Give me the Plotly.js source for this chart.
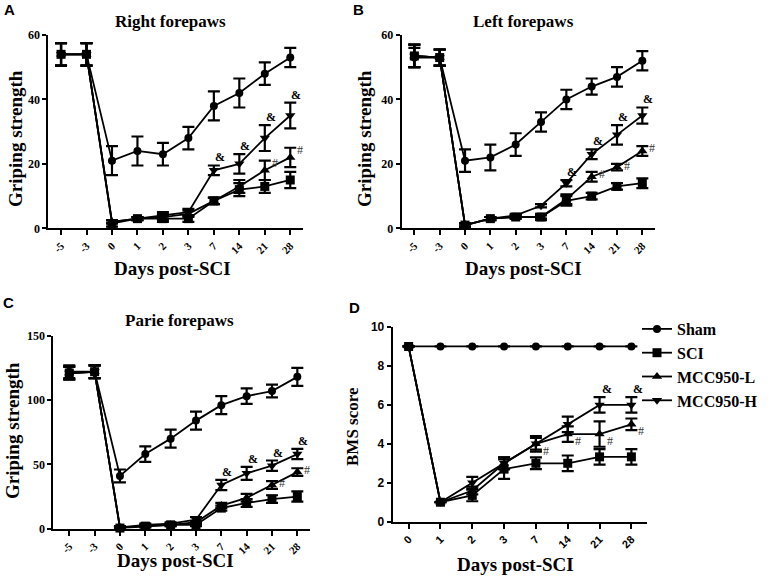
<!DOCTYPE html>
<html><head><meta charset="utf-8">
<script src="https://cdn.plot.ly/plotly-3.0.1.min.js"></script>
<style>html,body{margin:0;padding:0;background:#fff}</style>
</head><body><div id="chart" style="width:777px;height:581px"></div>
<script>
// ---------- data ----------
const daysGrip = ["-5","-3","0","1","2","3","7","14","21","28"];
const daysBMS = ["0","1","2","3","7","14","21","28"];
const seriesNames = ["Sham","SCI","MCC950-L","MCC950-H"];

// Panel A: Right forepaws
const rightSham = [54,54,21,24,23,28,38,42,48,53];
const rightShamErr = [3.5,3.5,4.5,4.5,3.5,3.5,4.5,4.5,3.5,3];
const rightSCI = [54,54,1.5,3,3,3,8.5,12,13,15];
const rightSCIErr = [3.5,3.5,1,0.5,1,1,1,2,2,2.5];
const rightL = [54,54,2,3,3.5,4.5,8.5,13,18,22];
const rightLErr = [3.5,3.5,0.5,0.5,1,1,1,2,3,3];
const rightH = [54,54,2,3,4,5,18,20,28,35];
const rightHErr = [3.5,3.5,0.5,0.5,1,1,1.5,3,4,4];
const rightSigL = ["","","","","","","","","#","#"];
const rightSigH = ["","","","","","","&","&","&","&"];

// Panel B: Left forepaws
const leftSham = [53,53,21,22,26,33,40,44,47,52];
const leftShamErr = [3,2.5,3.5,4,3.5,3,3,2.5,3,3];
const leftSCI = [53.5,53,1,3,3.5,3.5,8.5,10,13,14];
const leftSCIErr = [3.5,2.5,0.5,0.5,0.5,1,1.5,1,1,1.5];
const leftL = [53.5,53,1,3,3.5,3.5,9,16,19,24];
const leftLErr = [3.5,2.5,0.5,0.5,0.5,0.5,1.5,1.5,1,1.5];
const leftH = [53.5,53,1,3,4,7,14,23,29,35];
const leftHErr = [3.5,2.5,0.5,0.5,0.5,0.5,1,1.5,3,2.5];
const leftSigL = ["","","","","","","","#","#","#"];
const leftSigH = ["","","","","","","&","&","&","&"];

// Panel C: Parie forepaws
const parieSham = [122,122,41,58,70,84,96,103,107,118];
const parieShamErr = [5,5,5,6,7,7,7,6,5,7];
const parieSCI = [121,122,0.5,2,3,3,16,20,23,25];
const parieSCIErr = [5,5,1,1,1,1,2,3,3,4];
const parieL = [121,122,1,2,3,5,18,24,34,44];
const parieLErr = [5,5,1,1,1,1,2,3,3,3];
const parieH = [121,122,1,3,4,7,34,43,49,58];
const parieHErr = [5,5,1,1,1,2,4,5,4,4];
const parieSigL = ["","","","","","","","","#","#"];
const parieSigH = ["","","","","","","&","&","&","&"];

// Panel D: BMS score
const bmsSham = [9,9,9,9,9,9,9,9];
const bmsShamErr = [0,0,0,0,0,0,0,0];
const bmsSCI = [9,1,1.35,2.7,3,3,3.33,3.33];
const bmsSCIErr = [0,0,0.3,0.5,0.3,0.4,0.4,0.4];
const bmsL = [9,1,1.6,3,4,4.5,4.5,5];
const bmsLErr = [0,0,0.2,0.3,0.3,0.4,0.65,0.3];
const bmsH = [9,1,2,3,4,5,6,6];
const bmsHErr = [0,0,0.3,0.3,0.4,0.4,0.4,0.4];
const bmsSigL = ["","","","","#","#","#","#"];
const bmsSigH = ["","","","","","","&","&"];

// ---------- styling ----------
const SERIF = "'Liberation Serif', 'Times New Roman', Tinos, 'DejaVu Serif', serif";
const SANS = "'Liberation Sans', Arial, sans-serif";
const symbols = ["circle","square","triangle-up","triangle-down"];
const msizes = [8,9,9,9];

const traces = [];
const annotations = [];

function addPanel(n, cats, vals, errs, sigL, sigH, showLegend, sigStyle) {
  const xa = n === 1 ? "x" : "x" + n;
  const ya = n === 1 ? "y" : "y" + n;
  vals.forEach((v, i) => {
    traces.push({
      type: "scatter", mode: "lines+markers",
      x: cats, y: v, xaxis: xa, yaxis: ya,
      name: seriesNames[i], showlegend: showLegend,
      line: {color: "black", width: 1.8},
      marker: {symbol: symbols[i], size: msizes[i], color: "black"},
      error_y: {type: "data", array: errs[i], visible: true, color: "black", thickness: 2.2, width: 6},
      cliponaxis: false, hoverinfo: "x+y+name"
    });
  });
  // significance marks (x given as category index)
  const addSig = (sig, v, e, isHash) => {
    sig.forEach((s, j) => {
      if (!s) return;
      const st = sigStyle(isHash);
      annotations.push({
        xref: xa, yref: ya, x: j, y: st.atValue ? v[j] : v[j] + e[j],
        text: s, showarrow: false, xanchor: "left", yanchor: st.yanchor,
        xshift: st.xshift, yshift: st.yshift,
        font: {family: SERIF, size: 12, color: isHash ? "#333" : "black", weight: isHash ? "normal" : "bold"}
      });
    });
  };
  addSig(sigL, vals[2], errs[2], true);
  addSig(sigH, vals[3], errs[3], false);
}

const gripSig = (isHash) => isHash
  ? {atValue: false, yanchor: "middle", xshift: 5, yshift: -2}
  : {atValue: false, yanchor: "bottom", xshift: -1, yshift: -1};
const bmsSig = (isHash) => isHash
  ? {atValue: true, yanchor: "top", xshift: 5, yshift: 2}
  : {atValue: false, yanchor: "bottom", xshift: 0, yshift: -1};

addPanel(1, daysGrip, [rightSham, rightSCI, rightL, rightH], [rightShamErr, rightSCIErr, rightLErr, rightHErr], rightSigL, rightSigH, true, gripSig);
addPanel(2, daysGrip, [leftSham, leftSCI, leftL, leftH], [leftShamErr, leftSCIErr, leftLErr, leftHErr], leftSigL, leftSigH, false, gripSig);
addPanel(3, daysGrip, [parieSham, parieSCI, parieL, parieH], [parieShamErr, parieSCIErr, parieLErr, parieHErr], parieSigL, parieSigH, false, gripSig);
addPanel(4, daysBMS, [bmsSham, bmsSCI, bmsL, bmsH], [bmsShamErr, bmsSCIErr, bmsLErr, bmsHErr], bmsSigL, bmsSigH, false, bmsSig);

const W = 777, H = 581;
const px = (a, b) => [a / W, b / W];
const py = (top, bottom) => [(H - bottom) / H, (H - top) / H];

function xAxis(dom, range, anchor, fontFam) {
  return {domain: dom, range: range, type: "category", anchor: anchor,
    showline: true, linecolor: "black", linewidth: 2, mirror: false,
    ticks: "outside", ticklen: 5, tickwidth: 2, tickcolor: "black",
    tickangle: -45, tickfont: {family: fontFam, size: 11, color: "black", weight: "bold"},
    showgrid: false, zeroline: false, fixedrange: true};
}
function yAxis(dom, range, dtick, anchor, fontFam) {
  return {domain: dom, range: range, dtick: dtick, anchor: anchor,
    showline: true, linecolor: "black", linewidth: 2,
    ticks: "outside", ticklen: 4, tickwidth: 2, tickcolor: "black",
    tickfont: {family: fontFam, size: 12, color: "black", weight: "bold"},
    showgrid: false, zeroline: false, fixedrange: true};
}

const text = (t, x, y, size, fam, angle) => ({
  xref: "paper", yref: "paper", x: x / W, y: (H - y) / H, text: t, showarrow: false,
  xanchor: "center", yanchor: "middle", textangle: angle || 0,
  font: {family: fam, size: size, color: "black", weight: "bold"}
});

annotations.push(
  text("A", 9, 10, 15, SANS), text("B", 358, 10, 15, SANS),
  text("C", 8, 303, 15, SANS), text("D", 354, 308, 15, SANS),
  text("Right forepaws", 170, 21, 17, SERIF),
  text("Left forepaws", 523, 21, 17, SERIF),
  text("Parie forepaws", 179, 320, 17, SERIF),
  text("Griping strength", 15, 139, 19, SERIF, -90),
  text("Griping strength", 364, 139, 19, SERIF, -90),
  text("Griping strength", 13, 431, 19, SERIF, -90),
  text("BMS score", 352, 427, 17, SERIF, -90),
  text("Days post-SCI", 172, 268, 19, SERIF),
  text("Days post-SCI", 523, 268, 19, SERIF),
  text("Days post-SCI", 175, 560, 19, SERIF),
  text("Days post-SCI", 515, 564, 19, SERIF)
);

const layout = {
  width: W, height: H, margin: {l: 0, r: 0, t: 0, b: 0},
  paper_bgcolor: "white", plot_bgcolor: "white",
  showlegend: true,
  legend: {x: 637 / W, y: (H - 312) / H, xanchor: "left", yanchor: "top",
    font: {family: SERIF, size: 16, color: "black", weight: "bold"},
    tracegroupgap: 0,
    bgcolor: "rgba(0,0,0,0)", borderwidth: 0},
  xaxis: xAxis(px(48.3, 303), [-0.5, 9.5], "y", SERIF),
  yaxis: yAxis(py(35, 228.3), [0, 60], 20, "x", SERIF),
  xaxis2: xAxis(px(401.7, 655), [-0.5, 9.5], "y2", SERIF),
  yaxis2: yAxis(py(35, 228.3), [0, 60], 20, "x2", SERIF),
  xaxis3: xAxis(px(53.3, 310), [-0.63, 9.5], "y3", SERIF),
  yaxis3: yAxis(py(335.7, 528.7), [0, 150], 50, "x3", SERIF),
  xaxis4: xAxis(px(392.7, 647.3), [-0.5, 7.5], "y4", SANS),
  yaxis4: yAxis(py(327, 521.7), [0, 10], 2, "x4", SANS),
  annotations: annotations
};

Plotly.newPlot("chart", traces, layout, {displayModeBar: false, staticPlot: true});
</script>
</body></html>
